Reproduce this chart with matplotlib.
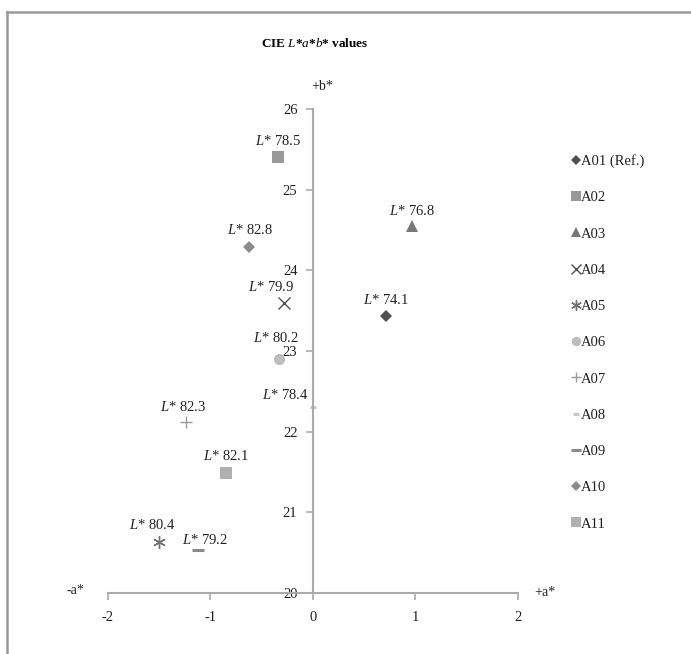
import matplotlib.pyplot as plt
from matplotlib.lines import Line2D

plt.rcParams['font.family'] = 'Liberation Serif'
plt.rcParams['mathtext.fontset'] = 'custom'
plt.rcParams['mathtext.rm'] = 'Liberation Serif'
plt.rcParams['mathtext.it'] = 'Liberation Serif:italic'
plt.rcParams['mathtext.bf'] = 'Liberation Serif:bold'
plt.rcParams['axes.unicode_minus'] = False

names = ['A01 (Ref.)', 'A02', 'A03', 'A04', 'A05', 'A06', 'A07', 'A08', 'A09', 'A10', 'A11']
a_vals = [0.72, -0.34, 0.97, -0.28, -1.50, -0.33, -1.24, 0.0, -1.12, -0.62, -0.85]
b_vals = [23.44, 25.40, 24.55, 23.60, 20.63, 22.90, 22.12, 22.30, 20.53, 24.29, 21.49]
l_vals = ['74.1', '78.5', '76.8', '79.9', '80.4', '80.2', '82.3', '78.4', '79.2', '82.8', '82.1']

markers = ['D', 's', '^', 'x', (6, 2, 0), 'o', '+', '_', '_', 'D', 's']
colors = ['#505050', '#999999', '#777777', '#505050', '#707070', '#bdbdbd',
          '#9a9a9a', '#c8c8c8', '#8a8a8a', '#8c8c8c', '#b0b0b0']
sizes = [6, 8, 8, 8, 9, 8, 8, 5, 9, 6, 8]
label_off = [(0, 6), (0, 7), (0, 6), (-9, 6), (-5, 7), (-2, 10), (-2, 6), (-3, 4), (5, 2), (1, 7), (0, 7)]
label_ha = ['center', 'center', 'center', 'center', 'center', 'center', 'center', 'right', 'center', 'center', 'center']

fig = plt.figure(figsize=(6.91, 6.54), dpi=100)
ax = fig.add_axes([0.156, 0.0933, 0.593, 0.74])

for i in range(len(names)):
    mew = 1.0 if markers[i] in ('x', '+', (6, 2, 0)) else 2.2 if markers[i] == '_' else 0
    ax.plot(a_vals[i], b_vals[i], linestyle='none', marker=markers[i], color=colors[i],
            markersize=sizes[i], markeredgewidth=mew, label=names[i])
    ax.annotate(r'$\mathit{L}$* ' + l_vals[i], (a_vals[i], b_vals[i]),
                xytext=label_off[i], textcoords='offset points',
                ha=label_ha[i], va='bottom', fontsize=10.5, color='#222222')

ax.set_xlim(-2, 2)
ax.set_ylim(20, 26)
ax.spines['left'].set_position(('data', 0))
ax.spines['right'].set_visible(False)
ax.spines['top'].set_visible(False)
for s in ('left', 'bottom'):
    ax.spines[s].set_color('#aaaaaa')
    ax.spines[s].set_linewidth(1.5)
ax.set_xticks([-2, -1, 0, 1, 2])
ax.set_yticks([20, 21, 22, 23, 24, 25, 26])
ax.tick_params(direction='out', length=5, width=1.2, color='#aaaaaa', labelsize=10.5, labelcolor='#222222')
ax.tick_params(axis='y', pad=6)
ax.tick_params(axis='x', pad=8)

fig.text(0.456, 0.934, r'CIE $\mathbf{\mathit{L}}$*$\mathbf{\mathit{a}}$*$\mathbf{\mathit{b}}$* values',
         ha='center', va='center', fontsize=9.5, fontweight='bold')
fig.text(322 / 691, 1 - 87 / 654, '+b*', ha='center', va='center', fontsize=10, color='#222222')
fig.text(75 / 691, 1 - 590 / 654, '-a*', ha='center', va='center', fontsize=10, color='#222222')
fig.text(545 / 691, 1 - 593 / 654, '+a*', ha='center', va='center', fontsize=10, color='#222222')

handles, labels = ax.get_legend_handles_labels()
leg = fig.legend(handles, labels, loc='upper left', bbox_to_anchor=(558 / 691, 1 - 141 / 654),
                 frameon=False, handlelength=0.6, handletextpad=0.1, labelspacing=1.58,
                 fontsize=10.5, markerscale=0.85)
for t in leg.get_texts():
    t.set_color('#222222')

# grey frame on the left and top edges
fig.add_artist(Line2D([7 / 691, 7 / 691], [0, 1 - 12 / 654], color='#999999', lw=1.8))
fig.add_artist(Line2D([7 / 691, 1], [1 - 12 / 654, 1 - 12 / 654], color='#999999', lw=1.8))

fig.savefig('out.png', dpi=100)
